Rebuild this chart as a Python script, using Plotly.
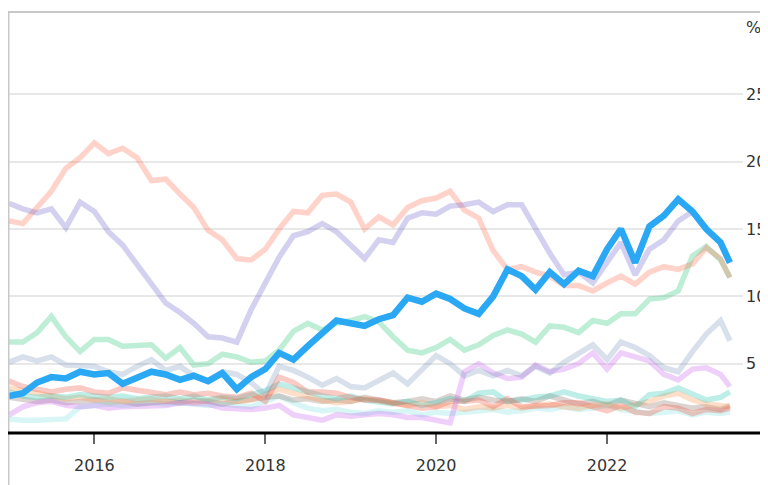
import pandas as pd
import plotly.graph_objects as go

# bi-monthly observations, Jan 2015 .. Jun 2023
dates = list(pd.date_range('2015-01-01', '2023-05-01', freq='2MS')) + [pd.Timestamp('2023-06-10')]

blue = [2.6, 2.8, 3.6, 4.0, 3.9, 4.4,
        4.2, 4.3, 3.5, 4.0, 4.4, 4.2,
        3.8, 4.1, 3.7, 4.3, 3.1, 4.0,
        4.6, 5.8, 5.3, 6.3, 7.3, 8.2,
        8.0, 7.8, 8.3, 8.6, 9.9, 9.6,
        10.2, 9.8, 9.1, 8.7, 10.0, 12.0,
        11.5, 10.5, 11.8, 10.9, 11.9, 11.5,
        13.5, 15.0, 12.5, 15.2, 16.0, 17.2,
        16.3, 15.0, 14.0, 12.5]
salmon = [15.6, 15.4, 16.6, 17.8, 19.5, 20.3,
          21.4, 20.6, 21.0, 20.3, 18.6, 18.7,
          17.6, 16.6, 14.9, 14.2, 12.8, 12.7,
          13.5, 15.0, 16.3, 16.2, 17.5, 17.6,
          17.0, 15.0, 15.9, 15.3, 16.6, 17.1,
          17.3, 17.8, 16.4, 15.8, 13.4, 12.0,
          12.2, 11.8, 11.5, 10.8, 10.8, 10.4,
          11.0, 11.5, 10.9, 11.8, 12.2, 12.0,
          12.4, 13.6, 12.8, 11.4]
lavender = [16.9, 16.5, 16.2, 16.5, 15.1, 17.0,
            16.3, 14.8, 13.8, 12.4, 11.0, 9.5,
            8.8, 8.0, 7.0, 6.9, 6.6, 9.0,
            11.0, 12.9, 14.5, 14.8, 15.4, 14.8,
            13.8, 12.8, 14.2, 14.0, 15.8, 16.2,
            16.1, 16.7, 16.8, 17.0, 16.3, 16.8,
            16.8, 15.0, 13.2, 11.6, 11.8, 11.0,
            12.5, 14.0, 11.6, 13.5, 14.2, 15.6,
            16.3, 15.0, 14.0, 12.5]
mint = [6.6, 6.6, 7.3, 8.5, 7.0, 5.9,
        6.8, 6.8, 6.3, 6.3, 6.4, 5.4,
        6.2, 4.9, 5.0, 5.7, 5.5, 5.1,
        5.2, 6.0, 7.4, 8.0, 7.5, 8.0,
        8.2, 8.5, 8.1, 7.0, 6.0, 5.8,
        6.2, 6.8, 6.0, 6.4, 7.1, 7.5,
        7.2, 6.6, 7.8, 7.7, 7.3, 8.2,
        8.0, 8.7, 8.7, 9.8, 9.9, 10.4,
        13.0, 13.7, 12.7, 11.4]
slate = [5.1, 5.5, 5.2, 5.5, 4.9, 4.9,
         4.8, 4.4, 4.2, 4.8, 5.3, 4.5,
         4.8, 4.1, 3.7, 4.4, 4.2, 3.6,
         2.7, 4.8, 4.5, 4.0, 3.4, 3.9,
         3.3, 3.2, 3.8, 4.3, 3.5, 4.6,
         5.6, 5.0, 4.1, 4.5, 4.1, 4.5,
         4.1, 4.8, 4.3, 5.1, 5.8, 6.4,
         5.3, 6.6, 6.2, 5.6, 4.7, 4.4,
         5.9, 7.2, 8.2, 6.7]
violet = [1.2, 1.8, 2.1, 2.2, 1.9, 1.8,
          1.9, 1.7, 1.8, 1.8, 1.8, 1.9,
          2.1, 2.1, 2.0, 1.7, 1.6, 1.6,
          1.7, 1.9, 1.2, 1.0, 0.8, 1.2,
          1.1, 1.2, 1.3, 1.2, 1.0, 1.0,
          0.8, 0.6, 4.4, 5.0, 4.3, 3.9,
          4.0, 4.9, 4.4, 4.6, 5.0, 5.8,
          4.6, 5.8, 5.5, 5.2, 4.2, 3.8,
          4.6, 4.7, 4.2, 3.3]
red = [3.7, 3.3, 3.1, 2.9, 3.1, 3.2,
       2.9, 2.8, 3.2, 3.0, 2.9, 2.7,
       2.9, 2.7, 2.8, 2.6, 2.5, 2.8,
       2.2, 4.0, 3.6, 2.9, 2.9, 2.8,
       2.5, 2.3, 2.3, 2.1, 2.0, 1.7,
       1.8, 2.2, 2.2, 2.3, 1.8, 2.4,
       1.8, 1.8, 1.9, 2.1, 2.1, 1.8,
       1.5, 1.9, 1.4, 1.3, 1.8, 1.7,
       1.3, 1.6, 1.5, 1.7]
teal = [2.9, 2.6, 2.5, 2.6, 2.5, 2.7,
        2.6, 2.5, 2.6, 2.4, 2.5, 2.6,
        2.4, 2.6, 2.3, 2.5, 2.4, 2.7,
        3.0, 3.5, 3.2, 2.8, 2.6, 2.4,
        2.6, 2.3, 2.1, 2.0, 2.2, 1.9,
        2.1, 2.4, 2.2, 2.8, 2.9, 2.2,
        2.3, 2.5, 2.6, 2.9, 2.6, 2.4,
        2.2, 2.3, 1.8, 2.7, 2.8, 3.2,
        2.7, 2.3, 2.5, 2.9]
orange = [3.2, 3.0, 2.8, 2.6, 2.4, 2.5,
          2.3, 2.4, 2.2, 2.3, 2.4, 2.2,
          2.3, 2.1, 2.2, 2.4, 2.2, 2.3,
          2.7, 3.1, 2.8, 2.5, 2.3, 2.1,
          2.2, 2.4, 2.2, 2.0, 1.9, 2.1,
          1.8, 1.9, 1.6, 1.8, 1.7, 1.9,
          1.7, 1.9, 2.0, 1.8, 1.7, 1.9,
          2.0, 1.7, 1.9, 2.2, 2.6, 2.8,
          2.3, 2.0, 1.9, 1.8]
brown = [2.5, 2.4, 2.2, 2.3, 2.1, 2.2,
         2.3, 2.1, 2.2, 2.0, 2.1, 2.2,
         2.1, 2.3, 2.2, 2.0, 2.2, 2.4,
         2.5, 2.6, 2.3, 2.4, 2.2, 2.3,
         2.2, 2.5, 2.3, 2.1, 2.2, 2.4,
         2.2, 2.6, 2.3, 2.5, 2.3, 2.2,
         2.4, 2.2, 2.6, 2.3, 2.0, 2.2,
         1.9, 2.3, 2.0, 1.8, 2.1, 1.9,
         1.7, 1.8, 1.6, 1.9]
cyan = [0.9, 0.8, 0.8, 0.8, 0.9, 1.8,
        1.9, 2.0, 1.9, 2.0, 2.1, 2.0,
        2.1, 2.0, 1.9, 2.0, 1.9, 1.8,
        2.2, 2.6, 2.1, 1.7, 1.5, 1.6,
        1.4, 1.3, 1.5, 1.4, 1.5, 1.2,
        1.4, 1.3, 1.4, 1.5, 1.6, 1.4,
        1.5, 1.7, 1.6, 1.8, 1.6, 1.7,
        1.9, 1.6, 1.5, 1.3, 1.4, 1.5,
        1.2, 1.4, 1.3, 1.4]

year_ticks = ['2016-01-01', '2018-01-01', '2020-01-01', '2022-01-01']
year_labels = ['2016', '2018', '2020', '2022']
y_ticks = [5, 10, 15, 20, 25, 30]
y_labels = ['5', '10', '15', '20', '25', '%']

background = [
    (cyan, 'rgba(100,220,220,0.25)'),
    (brown, 'rgba(130,100,90,0.28)'),
    (orange, 'rgba(255,150,80,0.3)'),
    (teal, 'rgba(40,200,180,0.3)'),
    (red, 'rgba(240,80,60,0.3)'),
    (violet, 'rgba(200,100,240,0.3)'),
    (slate, 'rgba(100,130,180,0.25)'),
    (mint, 'rgba(40,200,120,0.3)'),
    (salmon, 'rgba(255,110,80,0.3)'),
    (lavender, 'rgba(100,90,200,0.28)'),
]

fig = go.Figure()
for vals, col in background:
    fig.add_trace(go.Scatter(x=dates, y=vals, mode='lines',
                             line=dict(color=col, width=5.5), hoverinfo='skip'))
fig.add_trace(go.Scatter(x=dates, y=blue, mode='lines',
                         line=dict(color='#2aa8f4', width=6.5)))

# page body adds an 8px offset, so the figure is sized to fill the rest
fig.update_layout(
    width=760, height=477,
    margin=dict(l=1, r=25, t=19, b=54),
    plot_bgcolor='white', paper_bgcolor='white',
    showlegend=False,
    font=dict(family='DejaVu Sans', size=16, color='#333'),
)
fig.update_xaxes(type='date', range=['2015-01-01', '2023-08-05'],
                 tickvals=year_ticks, ticktext=year_labels,
                 ticks='outside', ticklen=12, tickwidth=1.5, tickcolor='#666',
                 ticklabelstandoff=8,
                 showgrid=False, zeroline=False, showline=False)
fig.update_yaxes(side='right', range=[0, 30], tickvals=y_ticks, ticktext=y_labels,
                 showgrid=True, gridcolor='#e8e8e8', gridwidth=1.5,
                 zeroline=False, showline=False, ticks='', ticklabelstandoff=2,
                 automargin=False)

# page frame and heavy baseline
fig.add_shape(type='line', xref='paper', yref='paper', x0=-0.0014, x1=1.04, y0=1.037, y1=1.037,
              line=dict(color='#c8c8c8', width=2))
fig.add_shape(type='line', xref='paper', yref='paper', x0=-0.0007, x1=-0.0007, y0=1.037, y1=-0.14,
              line=dict(color='#c8c8c8', width=2))
fig.add_shape(type='line', xref='paper', yref='paper', x0=1.027, x1=1.027, y0=1.037, y1=-0.14,
              line=dict(color='#eaf0f6', width=3))
fig.add_shape(type='line', xref='paper', yref='paper', x0=-0.0014, x1=1.04, y0=-0.005, y1=-0.005,
              line=dict(color='black', width=3))

fig.write_html("out.html")
